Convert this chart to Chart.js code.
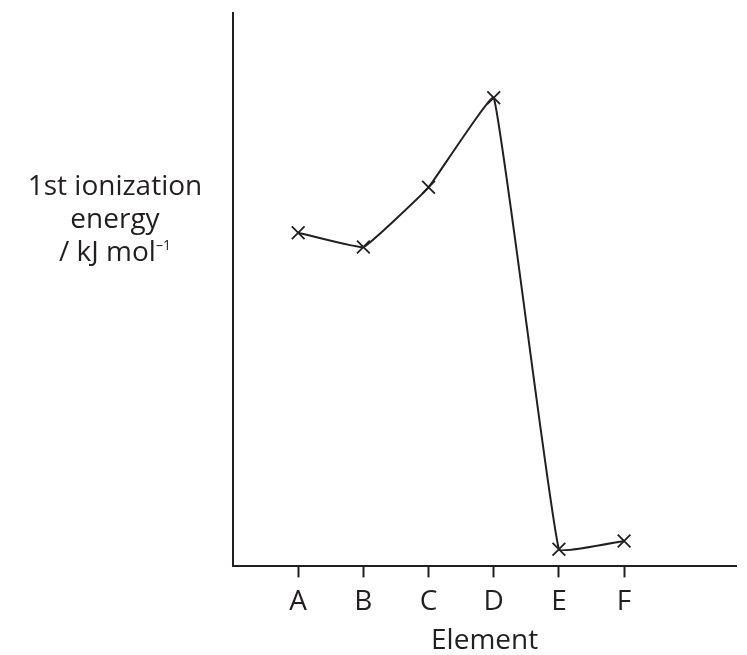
<!DOCTYPE html>
<html>
<head>
<meta charset="utf-8">
<script src="https://cdn.jsdelivr.net/npm/chart.js@4"></script>
<style>
  html, body { margin: 0; padding: 0; background: #fff; }
  #wrap { position: relative; width: 747px; height: 655px; }
  #yTitle {
    position: absolute; left: 0; top: 168px; width: 230px;
    text-align: center; font-family: "Open Sans", sans-serif;
    font-size: 28px; line-height: 33px; color: #231f20;
  }
  #yTitle sup { font-size: 14px; vertical-align: 11px; line-height: 0; }
</style>
</head>
<body>
<div id="wrap">
  <canvas id="chart" width="747" height="655"></canvas>
  <div id="yTitle">1st ionization<br>energy<br>/ kJ mol<sup>–1</sup></div>
</div>
<script>
// Elements along the x axis and their (unscaled) 1st ionization energies
const elements = ['A', 'B', 'C', 'D', 'E', 'F'];
const positions = [1, 2, 3, 4, 5, 6];
const energies = [60.3, 57.7, 68.5, 84.7, 3.1, 4.6];

const ink = '#231f20';

const points = positions.map((x, i) => ({ x: x, y: energies[i] }));

new Chart(document.getElementById('chart'), {
  type: 'line',
  data: {
    datasets: [{
      data: points,
      borderColor: ink,
      borderWidth: 2,
      tension: 0.08,
      pointStyle: 'crossRot',
      pointRadius: 9,
      pointBorderWidth: 1.8,
      pointBorderColor: ink,
      fill: false
    }]
  },
  options: {
    responsive: false,
    animation: false,
    layout: {
      padding: { left: 233, top: 13, right: 0, bottom: 0 }
    },
    plugins: {
      legend: { display: false },
      tooltip: { enabled: false }
    },
    scales: {
      x: {
        type: 'linear',
        min: 0,
        max: 7.72,
        afterBuildTicks: function(axis) {
          axis.ticks = positions.map(v => ({ value: v }));
        },
        ticks: {
          color: ink,
          font: { family: 'Open Sans', size: 28 },
          padding: 8,
          maxRotation: 0,
          callback: function(value) {
            return elements[value - 1] || '';
          }
        },
        grid: {
          drawOnChartArea: false,
          drawTicks: true,
          tickLength: 11,
          tickWidth: 2,
          color: ink
        },
        border: { color: ink, width: 2 },
        title: {
          display: true,
          text: 'Element',
          color: ink,
          font: { family: 'Open Sans', size: 28, lineHeight: 1 },
          padding: { top: 0, bottom: 0 }
        }
      },
      y: {
        min: 0,
        max: 100,
        ticks: { display: false },
        grid: { display: false, drawTicks: false },
        border: { color: ink, width: 2 }
      }
    }
  }
});
</script>
</body>
</html>
